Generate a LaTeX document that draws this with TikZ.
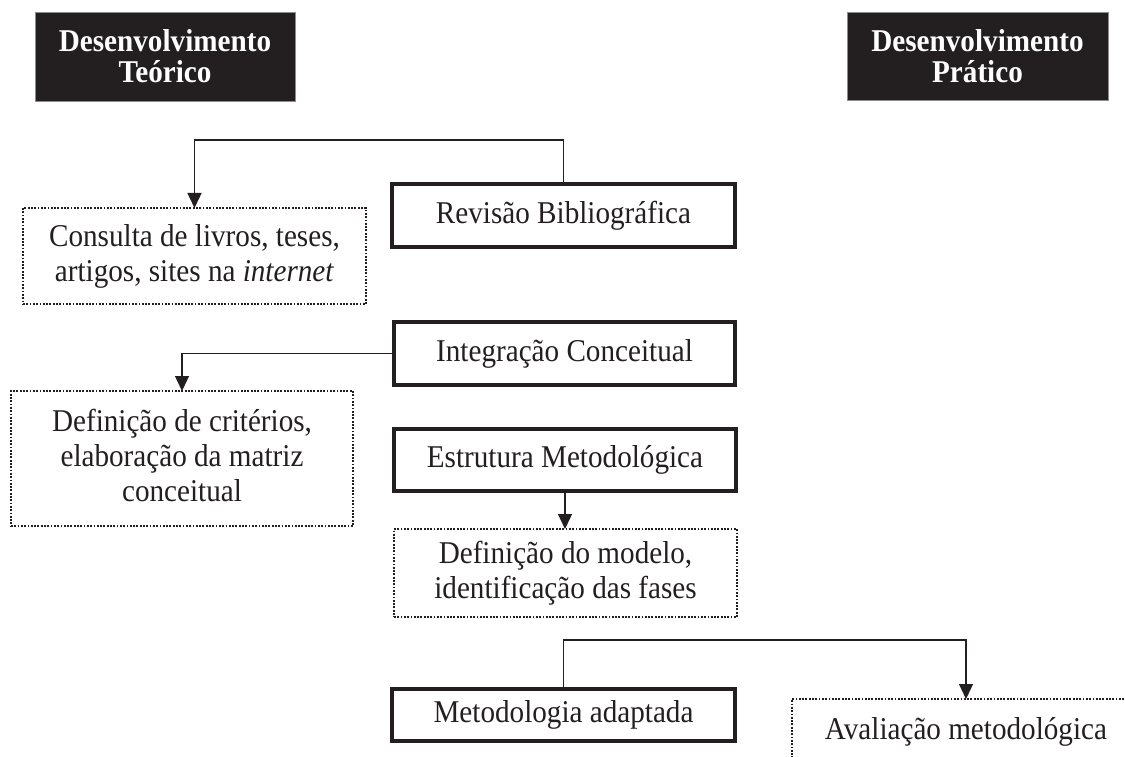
\documentclass[tikz,border=0pt]{standalone}
\usepackage{fontspec}
\setmainfont[FakeStretch=0.92]{Liberation Serif}
\usetikzlibrary{arrows.meta}
\definecolor{ink}{HTML}{231F20}
\definecolor{headfill}{HTML}{231F20}
\begin{document}
\begin{tikzpicture}[x=1pt,y=-1pt,
  every node/.style={inner sep=0pt, outer sep=0pt},
  header/.style={fill=headfill, draw=black!45, line width=0.8pt, text=white,
    font=\fontsize{31.7}{31}\selectfont\bfseries, align=center},
  stage/.style={draw=ink, line width=3.8pt, text=ink,
    font=\fontsize{31.7}{35}\selectfont, align=center},
  note/.style={draw=ink, line width=2pt, dash pattern=on 1.8pt off 1.5pt, text=ink,
    font=\fontsize{31.7}{35}\selectfont, align=center},
  link/.style={draw=ink, line width=1.3pt, -{Triangle[length=15pt,width=14pt]}}
]
\useasboundingbox (0,0) rectangle (1125,757);
\clip (0,0) rectangle (1125,757);

% column headings
\node[header, minimum width=260pt, minimum height=89pt] (teorico) at (165,56.5) {Desenvolvimento\\Teórico};
\node[header, minimum width=261pt, minimum height=88pt] (pratico) at (977.5,56) {Desenvolvimento\\Prático};

% main stages
\node[stage, minimum width=343.2pt, minimum height=63.2pt] (revisao) at (563.5,215.5) {Revisão Bibliográfica};
\node[stage, minimum width=341.2pt, minimum height=63.2pt] (integracao) at (564.5,353.5) {Integração Conceitual};
\node[stage, minimum width=342.2pt, minimum height=62.2pt] (estrutura) at (565,460) {Estrutura Metodológica};
\node[stage, minimum width=343.2pt, minimum height=52.2pt] (metodologia) at (563.5,715) {Metodologia adaptada};

% activities of each stage
\node[note, minimum width=343pt, minimum height=96pt] (consulta) at (194.5,256)
  {Consulta de livros, teses,\\artigos, sites na \textit{internet}};
\node[note, minimum width=342pt, minimum height=135pt] (criterios) at (182,458.5)
  {Definição de critérios,\\elaboração da matriz\\conceitual\vphantom{g}};
\node[note, minimum width=343pt, minimum height=88pt] (modelo) at (565.5,573)
  {Definição do modelo,\\identificação das fases};
\node[note, minimum width=348pt, minimum height=65pt] (avaliacao) at (966,731.5)
  {Avaliação metodológica};

% connectors
\draw[link] (revisao.north) -- (revisao.north |- 0,140) -| (consulta.north);
\draw[link] (integracao.west) -| (criterios.north);
\draw[link] (estrutura.south) -- (estrutura.south |- modelo.north);
\draw[link] (metodologia.north) -- (metodologia.north |- 0,640) -| (avaliacao.north);
\end{tikzpicture}
\end{document}
